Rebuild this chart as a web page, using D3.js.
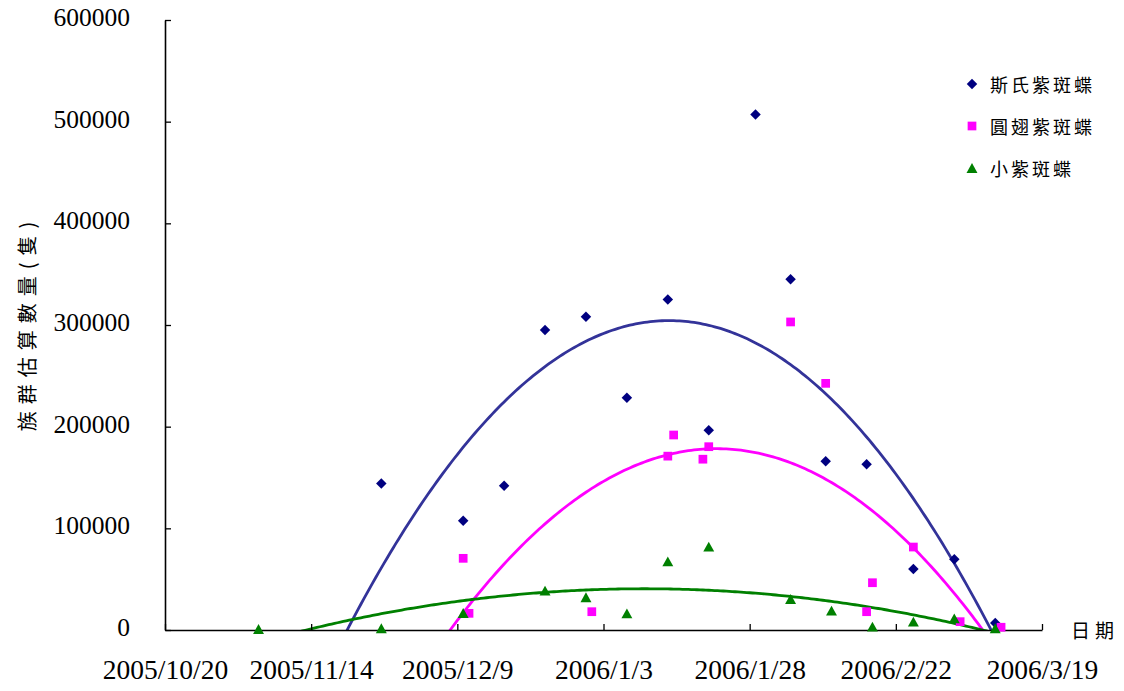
<!DOCTYPE html>
<html>
<head>
<meta charset="utf-8">
<script src="https://cdn.jsdelivr.net/npm/d3@7"></script>
<style>
  body { margin: 0; background: #fff; }
  svg { display: block; }
</style>
</head>
<body>
<svg id="chart" width="1124" height="691"></svg>
<script>
// Survey counts of overwintering purple crow butterflies, 2005-2006
const seriesNames = ['斯氏紫斑蝶', '圓翅紫斑蝶', '小紫斑蝶'];

const sylvesterDates = ['2005-11-26', '2005-12-10', '2005-12-17', '2005-12-24', '2005-12-31',
  '2006-01-07', '2006-01-14', '2006-01-21', '2006-01-29', '2006-02-04', '2006-02-10',
  '2006-02-17', '2006-02-25', '2006-03-04', '2006-03-11'];
const sylvesterCounts = [144000, 107500, 142000, 295000, 308000,
  228500, 325000, 196500, 507000, 345000, 166000,
  163000, 60000, 69500, 7000];

const euniceDates = ['2005-12-10', '2005-12-11', '2006-01-01', '2006-01-14', '2006-01-15',
  '2006-01-20', '2006-01-21', '2006-02-04', '2006-02-10', '2006-02-17', '2006-02-18',
  '2006-02-25', '2006-03-05', '2006-03-12'];
const euniceCounts = [70500, 16400, 18000, 171000, 191800,
  168000, 180300, 303000, 242600, 18000, 46500,
  81600, 8200, 2700];

const tulliolusDates = ['2005-11-05', '2005-11-26', '2005-12-10', '2005-12-24', '2005-12-31',
  '2006-01-07', '2006-01-14', '2006-01-21', '2006-02-04', '2006-02-11', '2006-02-18',
  '2006-02-25', '2006-03-04', '2006-03-11'];
const tulliolusCounts = [1000, 1700, 16700, 38700, 32200,
  16400, 67500, 82000, 30500, 19000, 3300,
  8200, 11500, 1700];

const xTickDates = ['2005-10-20', '2005-11-14', '2005-12-09', '2006-01-03', '2006-01-28', '2006-02-22', '2006-03-19'];
const xTickLabels = ['2005/10/20', '2005/11/14', '2005/12/9', '2006/1/3', '2006/1/28', '2006/2/22', '2006/3/19'];
const yTickValues = [0, 100000, 200000, 300000, 400000, 500000, 600000];

const markerColors = ['#000080', '#FF00FF', '#008000'];
const trendColors = ['#333399', '#FF00FF', '#008000'];

const parse = d3.utcParse('%Y-%m-%d');
const svg = d3.select('#chart');

const plot = { left: 165, right: 1042, top: 20, bottom: 630 };
const x = d3.scaleUtc()
  .domain([parse(xTickDates[0]), parse(xTickDates[xTickDates.length - 1])])
  .range([plot.left, plot.right]);
const y = d3.scaleLinear().domain([0, 600000]).range([plot.bottom, plot.top]);

const numFont = '"Liberation Serif", "DejaVu Serif", serif';
const cjkFont = '"Noto Sans CJK TC", "Noto Sans CJK SC", sans-serif';

// Series assembled from the arrays above
const series = [
  { name: seriesNames[0], dates: sylvesterDates, counts: sylvesterCounts },
  { name: seriesNames[1], dates: euniceDates, counts: euniceCounts },
  { name: seriesNames[2], dates: tulliolusDates, counts: tulliolusCounts }
].map((s, i) => ({
  ...s,
  color: markerColors[i],
  trend: trendColors[i],
  points: s.dates.map((d, j) => ({ date: parse(d), value: s.counts[j] }))
}));

// Second-order polynomial trendline (least squares), x measured in days
const DAY = 86400000;
const t0 = x.domain()[0].getTime();
function quadFit(points) {
  const S = [0, 0, 0, 0, 0], T = [0, 0, 0];
  points.forEach(p => {
    const xv = (p.date.getTime() - t0) / DAY;
    let pw = 1;
    for (let k = 0; k < 5; k++) {
      S[k] += pw;
      if (k < 3) T[k] += pw * p.value;
      pw *= xv;
    }
  });
  const M = [[S[0], S[1], S[2], T[0]], [S[1], S[2], S[3], T[1]], [S[2], S[3], S[4], T[2]]];
  for (let i = 0; i < 3; i++) {
    let piv = i;
    for (let r = i + 1; r < 3; r++) if (Math.abs(M[r][i]) > Math.abs(M[piv][i])) piv = r;
    [M[i], M[piv]] = [M[piv], M[i]];
    for (let r = 0; r < 3; r++) {
      if (r === i) continue;
      const f = M[r][i] / M[i][i];
      for (let c = i; c < 4; c++) M[r][c] -= f * M[i][c];
    }
  }
  const coef = [M[0][3] / M[0][0], M[1][3] / M[1][1], M[2][3] / M[2][2]];
  return d => coef[0] + coef[1] * d + coef[2] * d * d;
}

// Clip trendlines to the plotting region
svg.append('defs').append('clipPath').attr('id', 'plot-clip')
  .append('rect')
  .attr('x', plot.left).attr('y', plot.top)
  .attr('width', plot.right - plot.left).attr('height', plot.bottom - plot.top);

const spanDays = (x.domain()[1].getTime() - t0) / DAY;
const sampleDays = d3.range(0, spanDays + 0.001, 0.5);
const trendLine = d3.line()
  .x(d => x(new Date(t0 + d.day * DAY)))
  .y(d => y(d.value));

const trendGroup = svg.append('g').attr('clip-path', 'url(#plot-clip)');
series.forEach(s => {
  const f = quadFit(s.points);
  trendGroup.append('path')
    .datum(sampleDays.map(day => ({ day, value: f(day) })))
    .attr('fill', 'none')
    .attr('stroke', s.trend)
    .attr('stroke-width', 2.8)
    .attr('stroke-linejoin', 'round')
    .attr('d', trendLine);
});

// Axes
const yAxis = d3.axisLeft(y)
  .tickValues(yTickValues)
  .tickFormat(d3.format('d'))
  .tickSizeInner(-6)
  .tickSizeOuter(0)
  .tickPadding(35);
const yAxisG = svg.append('g').attr('transform', `translate(${plot.left},0)`).call(yAxis);
yAxisG.selectAll('text')
  .attr('font-family', numFont).attr('font-size', 25.5).attr('fill', '#000')
  .attr('dy', '0.22em');

const xAxis = d3.axisBottom(x)
  .tickValues(xTickDates.map(parse))
  .tickFormat((d, i) => xTickLabels[i])
  .tickSizeInner(-6)
  .tickSizeOuter(0)
  .tickPadding(32);
const xAxisG = svg.append('g').attr('transform', `translate(0,${plot.bottom})`).call(xAxis);
xAxisG.selectAll('text')
  .attr('font-family', numFont).attr('font-size', 27.5).attr('fill', '#000')
  .attr('dy', '0.6em');

[yAxisG, xAxisG].forEach(g => {
  g.select('.domain').attr('stroke', '#000').attr('stroke-width', 1.6);
  g.selectAll('.tick line').attr('stroke', '#000').attr('stroke-width', 1.3);
});

// Marker shapes: rotated square, square, triangle
const diamondSymbol = {
  draw(ctx, size) {
    const r = Math.sqrt(size) / 2;
    ctx.moveTo(0, -r); ctx.lineTo(r, 0); ctx.lineTo(0, r); ctx.lineTo(-r, 0); ctx.closePath();
  }
};
const squareSymbol = {
  draw(ctx, size) {
    const h = Math.sqrt(size) / 2;
    ctx.rect(-h, -h, 2 * h, 2 * h);
  }
};
const triangleSymbol = {
  draw(ctx, size) {
    const w = Math.sqrt(size) / 2;
    ctx.moveTo(0, -w * 0.9); ctx.lineTo(w, w * 0.9); ctx.lineTo(-w, w * 0.9); ctx.closePath();
  }
};
const symbols = [
  d3.symbol(diamondSymbol, 110),
  d3.symbol(squareSymbol, 76),
  d3.symbol(triangleSymbol, 120)
];

series.forEach((s, i) => {
  svg.append('g')
    .selectAll('path')
    .data(s.points)
    .join('path')
    .attr('transform', d => `translate(${x(d.date)},${y(d.value)})`)
    .attr('d', symbols[i]())
    .attr('fill', s.color);
});

// Axis titles
svg.append('text')
  .attr('x', 1071).attr('y', 629)
  .attr('dominant-baseline', 'central')
  .attr('font-family', cjkFont).attr('font-size', 19)
  .attr('letter-spacing', 5)
  .text('日期');

svg.append('text')
  .attr('transform', 'translate(26,323) rotate(-90)')
  .attr('text-anchor', 'middle')
  .attr('dominant-baseline', 'central')
  .attr('font-family', cjkFont).attr('font-size', 20)
  .attr('letter-spacing', 7)
  .text('族群估算數量(隻)');

// Legend
const legend = svg.append('g');
series.forEach((s, i) => {
  const ly = 84 + i * 42;
  legend.append('path')
    .attr('transform', `translate(972,${ly})`)
    .attr('d', symbols[i]())
    .attr('fill', s.color);
  legend.append('text')
    .attr('x', 990).attr('y', ly)
    .attr('dominant-baseline', 'central')
    .attr('font-family', cjkFont).attr('font-size', 18)
    .attr('letter-spacing', 3)
    .text(s.name);
});
</script>
</body>
</html>
